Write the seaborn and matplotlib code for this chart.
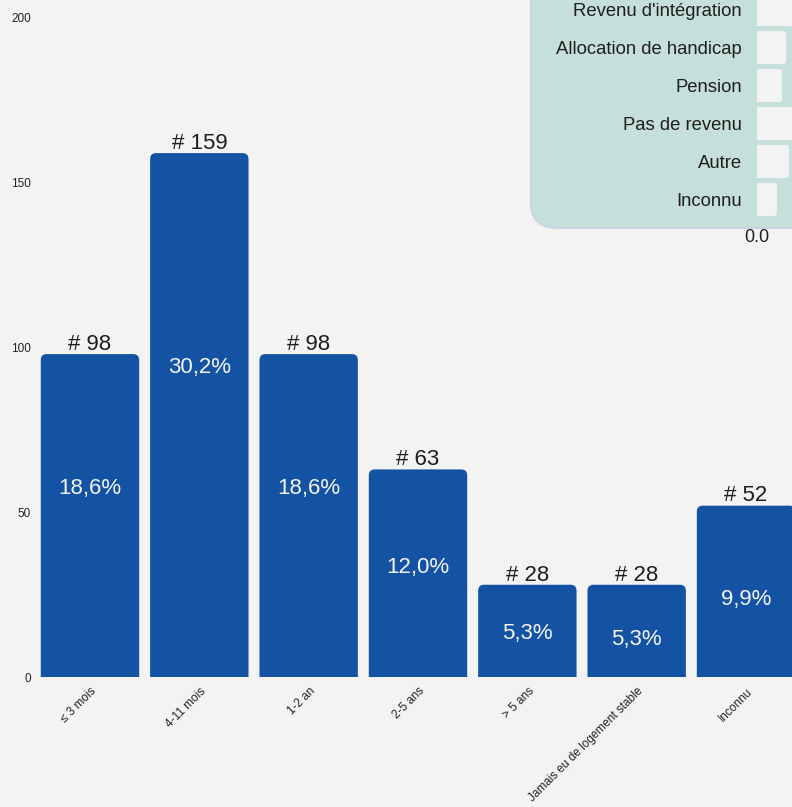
import numpy as np
import pandas as pd
import matplotlib
matplotlib.use("Agg")
import matplotlib.pyplot as plt
import matplotlib.transforms as mtransforms
from matplotlib.patches import FancyBboxPatch
from matplotlib.ticker import FormatStrFormatter
import seaborn as sns

# --- données ---
durees = ["≤ 3 mois", "4-11 mois", "1-2 an", "2-5 ans", "> 5 ans",
          "Jamais eu de logement stable", "Inconnu"]
effectifs = [98, 159, 98, 63, 28, 28, 52]

revenus = ["Revenu d'intégration", "Allocation de handicap", "Pension",
           "Pas de revenu", "Autre", "Inconnu"]
revenus_val = [48, 29, 25, 44, 32, 20]

# hauteur (unités de l'axe y) des pourcentages dans les barres
pct_y = [57.7, 94.7, 57.7, 34.0, 13.7, 12.1, 24.1]

BLEU = "#1453a3"
FOND = "#f3f3f3"
VERT = "#c5dfda"
TEXTE = "#1e1e1e"

sns.set_theme(style="white")
plt.rcParams["font.family"] = ["Liberation Sans", "DejaVu Sans"]

fig = plt.figure(figsize=(7.92, 8.07), dpi=100, facecolor=FOND)
ax = fig.add_axes([35.3 / 792, 130 / 807, 765.4 / 792, 659 / 807], zorder=0)
ax.set_facecolor(FOND)

df = pd.DataFrame({"duree": durees, "n": effectifs})
sns.barplot(data=df, x="duree", y="n", color=BLEU, width=0.9,
            saturation=1, ax=ax)

# barres à coins supérieurs arrondis
r_x = 0.055
asp = 33.0
for p in list(ax.patches):
    x, w, h = p.get_x(), p.get_width(), p.get_height()
    p.remove()
    ax.add_patch(FancyBboxPatch((x, -r_x * asp), w, h + r_x * asp,
                                boxstyle=f"round,pad=0,rounding_size={r_x}",
                                mutation_aspect=asp, fc=BLEU, ec="none",
                                zorder=2))

total = sum(effectifs)
for i, n in enumerate(effectifs):
    ax.annotate(f"# {n}", (i, n), xytext=(0, 3), textcoords="offset points",
                ha="center", va="baseline", fontsize=16, color=TEXTE)
    pct = f"{n / total * 100:.1f}%".replace(".", ",")
    ax.annotate(pct, (i, pct_y[i]), xytext=(0, -1.5), textcoords="offset points",
                ha="center", va="center", fontsize=16, color="#f4f4f4",
                zorder=3)

ax.set_xlim(-0.5, 6.5)
ax.set_ylim(0, 200)
ax.set_yticks([0, 50, 100, 150, 200])
ax.set_xlabel("")
ax.set_ylabel("")
ax.tick_params(axis="y", length=0, pad=3, labelsize=8.5, labelcolor="#222222")
ax.tick_params(axis="x", length=0, pad=6, labelsize=8.5, labelcolor="#222222")
sns.despine(ax=ax, left=True, bottom=True)
decal = mtransforms.ScaledTranslation(9 / 100, 0, fig.dpi_scale_trans)
for lab in ax.get_xticklabels():
    lab.set_rotation(45)
    lab.set_ha("right")
    lab.set_transform(lab.get_transform() + decal)

# --- encart revenus ---
fond_encart = FancyBboxPatch((531, 807 - 228), 400, 400,
                             boxstyle="round,pad=0,rounding_size=26",
                             fc=VERT, ec="#c9d4e6", lw=1.5, transform=None,
                             zorder=1)
fig.add_artist(fond_encart)

ax2 = fig.add_axes([757 / 792, (807 - 228) / 807, 100 / 792, 237.5 / 807],
                   zorder=2)
ax2.patch.set_alpha(0)
sns.barplot(x=revenus_val, y=revenus, orient="h", color=FOND, saturation=1,
            width=0.87, ax=ax2)
r2 = 3.0
asp2 = 1 / 38
for p in list(ax2.patches):
    y, w, h = p.get_y(), p.get_width(), p.get_height()
    p.remove()
    ax2.add_patch(FancyBboxPatch((-r2, y), w + r2, h,
                                 boxstyle=f"round,pad=0,rounding_size={r2}",
                                 mutation_aspect=asp2, fc=FOND, ec="none"))
ax2.set_xlim(0, 100)
ax2.set_ylim(5.75, -0.5)
ax2.set_xticks([0])
ax2.xaxis.set_major_formatter(FormatStrFormatter("%.1f"))
ax2.set_xlabel("")
ax2.set_ylabel("")
ax2.tick_params(axis="x", length=0, pad=1, labelsize=13, labelcolor=TEXTE)
ax2.tick_params(axis="y", length=0, pad=11, labelsize=13.3, labelcolor=TEXTE)
sns.despine(ax=ax2, left=True, bottom=True)

fig.savefig("out.png", dpi=100, facecolor=FOND)
